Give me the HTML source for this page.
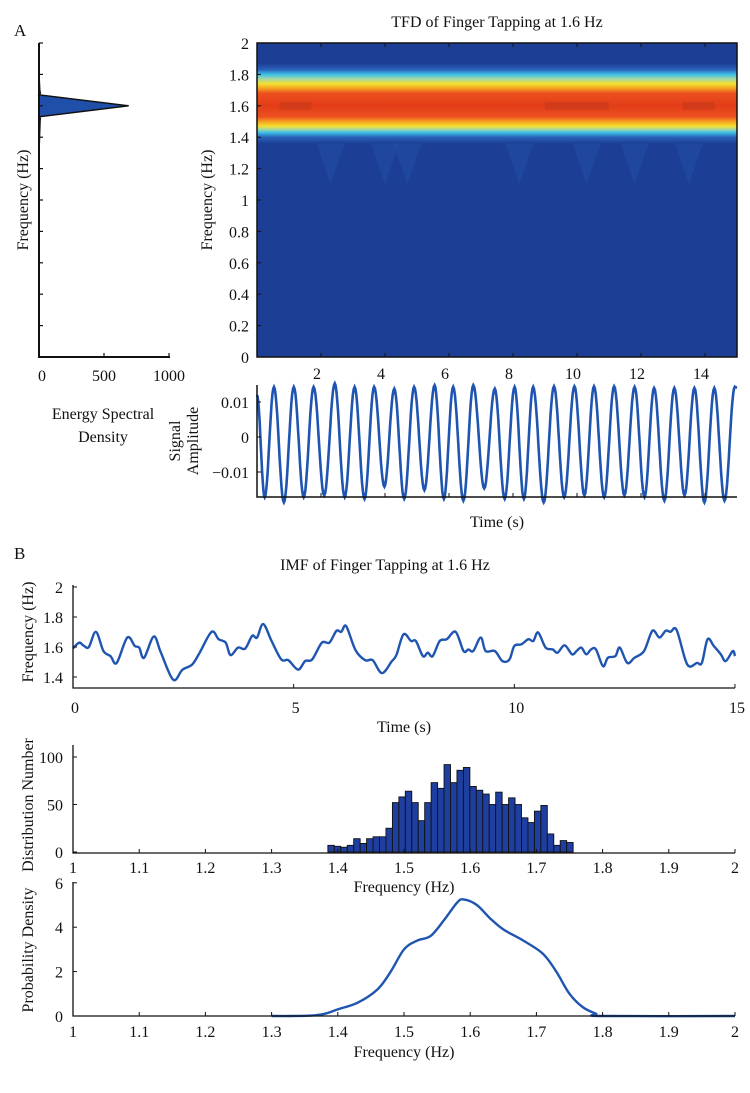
<!DOCTYPE html>
<html><head><meta charset="utf-8"><style>
body{margin:0;background:#fff;}
svg{display:block;font-family:"Liberation Serif",serif;}
text{fill:#111;font-size:16px;}
</style></head><body>
<svg id="fig" width="750" height="1093" viewBox="0 0 750 1093">
<defs>
<linearGradient id="band" x1="0" y1="0" x2="0" y2="1" gradientUnits="userSpaceOnUse">
</linearGradient>
</defs>
<text x="14" y="36" style="font-size:17px">A</text>
<text x="14" y="559" style="font-size:17px">B</text>
<text x="497" y="27" text-anchor="middle">TFD of Finger Tapping at 1.6 Hz</text>
<text x="385" y="570" text-anchor="middle">IMF of Finger Tapping at 1.6 Hz</text>
<text transform="translate(28,200) rotate(-90)" text-anchor="middle">Frequency (Hz)</text>
<text x="103" y="419" text-anchor="middle">Energy Spectral</text>
<text x="103" y="442" text-anchor="middle">Density</text>
<text transform="translate(212,200) rotate(-90)" text-anchor="middle">Frequency (Hz)</text>
<text transform="translate(180,441) rotate(-90)" text-anchor="middle">Signal</text>
<text transform="translate(198,441) rotate(-90)" text-anchor="middle">Amplitude</text>
<text x="497" y="527" text-anchor="middle">Time (s)</text>
<text transform="translate(33,632) rotate(-90)" text-anchor="middle">Frequency (Hz)</text>
<text x="404" y="732" text-anchor="middle">Time (s)</text>
<text transform="translate(33,805) rotate(-90)" text-anchor="middle">Distribution Number</text>
<text x="404" y="892" text-anchor="middle">Frequency (Hz)</text>
<text transform="translate(33,950) rotate(-90)" text-anchor="middle">Probability Density</text>
<text x="404" y="1057" text-anchor="middle">Frequency (Hz)</text>
</svg>
<script>
// ESD data
const esdFreq=[0,1.3,1.45,1.5,1.52,1.53,1.6,1.67,1.68,1.7,1.8,2];
const esdVal=[0,0,6,8,10,0,690,0,10,6,0,0];
const freqTicks=[0,0.2,0.4,0.6,0.8,1,1.2,1.4,1.6,1.8,2];
const esdTicks=[0,500,1000];
// TFD band (freq -> colour level)
const bandFreq=[1.87,1.83,1.80,1.77,1.74,1.71,1.68,1.60,1.53,1.50,1.47,1.45,1.43,1.40,1.36];
const bandColor=["#1c3f95","#2a62ba","#3cc0e8","#a8d8a0","#f5e030","#f5a020","#ec5020","#e23d18","#ec5020","#f5a020","#f5e030","#a8d8a0","#3cc0e8","#2a62ba","#1c3f95"];
const timeTicks=[2,4,6,8,10,12,14];
// Signal extrema
const sigT=[0,0.24,0.53,0.84,1.15,1.46,1.77,2.10,2.43,2.74,3.05,3.36,3.66,3.98,4.29,4.60,4.91,5.23,5.55,5.84,6.13,6.45,6.76,7.10,7.43,7.74,8.05,8.34,8.63,8.96,9.28,9.60,9.92,10.23,10.53,10.85,11.16,11.48,11.80,12.11,12.41,12.73,13.04,13.36,13.67,13.98,14.29,14.61,14.93,15];
const sigV=[0.012,-0.0172,0.0143,-0.0187,0.0143,-0.0172,0.0143,-0.0167,0.0153,-0.0172,0.0143,-0.0177,0.0143,-0.0142,0.0138,-0.0177,0.0143,-0.0152,0.0148,-0.0177,0.0143,-0.0182,0.0148,-0.0147,0.0138,-0.0177,0.0143,-0.0177,0.0143,-0.0187,0.0145,-0.0172,0.0145,-0.0167,0.0145,-0.0172,0.0145,-0.0167,0.0143,-0.0172,0.014,-0.0182,0.014,-0.0167,0.014,-0.0187,0.014,-0.0182,0.0143,0.0141];
const sigTicks=[0.01,0,-0.01];
const sigTickLabels=["0.01","0","\u22120.01"];
// IMF instantaneous frequency
const imfT=[0,0.14,0.25,0.36,0.52,0.69,0.85,0.99,1.23,1.40,1.50,1.61,1.83,1.99,2.27,2.48,2.70,2.87,3.14,3.30,3.46,3.57,3.74,3.90,4.06,4.17,4.31,4.50,4.72,4.88,5.10,5.26,5.42,5.64,5.81,5.97,6.08,6.19,6.40,6.62,6.79,7.00,7.22,7.33,7.49,7.66,7.77,7.93,8.04,8.15,8.31,8.47,8.67,8.85,8.96,9.07,9.24,9.35,9.56,9.73,9.89,10.00,10.16,10.32,10.43,10.54,10.71,10.87,10.98,11.14,11.31,11.41,11.52,11.63,11.74,11.85,12.01,12.12,12.29,12.39,12.56,12.72,12.94,13.13,13.29,13.43,13.54,13.68,13.92,14.14,14.25,14.38,14.52,14.68,14.79,14.95,15.0];
const imfF=[1.591,1.629,1.607,1.600,1.701,1.573,1.539,1.494,1.663,1.607,1.596,1.528,1.670,1.564,1.382,1.449,1.483,1.562,1.701,1.652,1.629,1.546,1.596,1.589,1.674,1.663,1.753,1.640,1.517,1.512,1.449,1.506,1.517,1.629,1.629,1.708,1.701,1.739,1.580,1.512,1.512,1.426,1.503,1.548,1.685,1.640,1.640,1.539,1.562,1.539,1.640,1.652,1.701,1.573,1.584,1.573,1.663,1.573,1.573,1.506,1.517,1.607,1.618,1.652,1.640,1.697,1.596,1.584,1.562,1.611,1.551,1.573,1.596,1.551,1.584,1.584,1.472,1.528,1.539,1.596,1.494,1.528,1.573,1.708,1.663,1.708,1.701,1.712,1.483,1.494,1.494,1.652,1.607,1.551,1.506,1.573,1.539];
const imfYTicks=[1.4,1.6,1.8,2];
const imfXTicks=[0,5,10,15];
// Histogram
const histStart=1.385, histBin=0.00975;
const histCounts=[7,6,5,7,14,9,14,16,16,25,52,58,64,52,33,52,73,67,92,73,86,89,69,65,61,50,63,50,57,50,36,31,43,49,19,7,12,10];
const histYTicks=[0,50,100];
const fxTicks=[1,1.1,1.2,1.3,1.4,1.5,1.6,1.7,1.8,1.9,2];
// Density
const denF=[1.30,1.33,1.36,1.38,1.40,1.43,1.46,1.48,1.50,1.52,1.54,1.56,1.58,1.59,1.61,1.63,1.65,1.68,1.71,1.73,1.75,1.77,1.79,1.80,2.0];
const denV=[0,0,0.02,0.1,0.3,0.6,1.2,2.0,3.0,3.4,3.6,4.3,5.1,5.25,5.0,4.4,3.9,3.4,2.8,2.0,1.0,0.4,0.1,0,0];
const denYTicks=[0,2,4,6];

const NS="http://www.w3.org/2000/svg";
const svg=document.getElementById('fig');
function el(tag,attrs,parent){const e=document.createElementNS(NS,tag);for(const k in attrs)e.setAttribute(k,attrs[k]);(parent||svg).appendChild(e);return e;}
function txt(x,y,s,anchor,name){const t=el('text',{x:x,y:y,'text-anchor':anchor||'middle'});t.textContent=s;


return t;}
function smooth(pts){let d='M'+pts[0][0]+','+pts[0][1];for(let i=0;i<pts.length-1;i++){const p0=pts[Math.max(i-1,0)],p1=pts[i],p2=pts[i+1],p3=pts[Math.min(i+2,pts.length-1)];
d+=' C'+(p1[0]+(p2[0]-p0[0])/6)+','+(p1[1]+(p2[1]-p0[1])/6)+' '+(p2[0]-(p3[0]-p1[0])/6)+','+(p2[1]-(p3[1]-p1[1])/6)+' '+p2[0]+','+p2[1];}return d;}

// ===== ESD panel =====
const ex=v=>39+v*0.13, fy=f=>357-f*157;
let pts=esdFreq.map((f,i)=>ex(esdVal[i])+','+fy(f));
const esd=el('polygon',{points:pts.join(' '),fill:'#1f4fa8',stroke:'#111','stroke-width':1.5});


freqTicks.forEach(f=>{const l=el('line',{x1:39,x2:43,y1:fy(f),y2:fy(f),stroke:'#111','stroke-width':1.2});

});
esdTicks.forEach(v=>{el('line',{x1:ex(v),x2:ex(v),y1:357,y2:353,stroke:'#111','stroke-width':1.2});txt(ex(v)+(v==0?3:0),381,String(v),'middle','esd-x-tick-label');});
const esdAx=el('path',{d:'M39,43 V357 H170',fill:'none',stroke:'#111','stroke-width':2});



// ===== TFD heatmap =====
const hx=t=>257+t*32, hy=f=>357-f*157;
const grad=document.getElementById('band');
grad.setAttribute('y1',hy(bandFreq[0]));grad.setAttribute('y2',hy(bandFreq[bandFreq.length-1]));
const span=bandFreq[0]-bandFreq[bandFreq.length-1];
bandFreq.forEach((f,i)=>el('stop',{offset:(bandFreq[0]-f)/span,'stop-color':bandColor[i]},grad));
const bg=el('rect',{x:257,y:43,width:480,height:314,fill:'#1c3f95'});


const dipT=[2.3,4.0,4.7,8.2,10.3,11.8,13.5];
dipT.forEach(t=>{const p=el('polygon',{points:(hx(t)-16)+','+hy(1.4)+' '+(hx(t)+16)+','+hy(1.4)+' '+hx(t)+','+hy(1.1),fill:'#2351a8',opacity:0.45});

});
const band=el('rect',{x:257,y:hy(bandFreq[0]),width:480,height:span*157,fill:'url(#band)'});


const darkT=[1.2,9.5,10.5,13.8];
darkT.forEach(t=>{const r=el('rect',{x:hx(t)-16,y:hy(1.625),width:32,height:8,fill:'#b8361c',opacity:0.4});

});
el('rect',{x:257,y:43,width:480,height:314,fill:'none',stroke:'#111','stroke-width':1.5});
freqTicks.forEach(f=>{el('line',{x1:257,x2:261,y1:hy(f),y2:hy(f),stroke:'#111'});txt(249,hy(f)+6,String(f),'end','tfd-y-tick-label');});
timeTicks.forEach(t=>{el('line',{x1:hx(t),x2:hx(t),y1:357,y2:353,stroke:'#111'});el('line',{x1:hx(t),x2:hx(t),y1:43,y2:47,stroke:'#111'});txt(hx(t)-4,379,String(t),'middle','tfd-x-tick-label');});

// ===== Signal =====
const sy=v=>437-v*3500;
const sp=[];
for(let i=0;i<sigT.length-1;i++){for(let k=0;k<12;k++){const u=k/12,w=(1-Math.cos(Math.PI*u))/2;sp.push([hx(sigT[i]+(sigT[i+1]-sigT[i])*u).toFixed(1),sy(sigV[i]+(sigV[i+1]-sigV[i])*w).toFixed(1)]);}}
sp.push([hx(sigT[sigT.length-1]),sy(sigV[sigV.length-1])]);
const sig=el('polyline',{points:sp.map(p=>p.join(',')).join(' '),fill:'none',stroke:'#1f55b0','stroke-width':2.6});


el('path',{d:'M257,385 V497 H737',fill:'none',stroke:'#111','stroke-width':1.5});
sigTicks.forEach((v,i)=>{el('line',{x1:257,x2:261,y1:sy(v),y2:sy(v),stroke:'#111'});txt(249,sy(v)+6,sigTickLabels[i],'end','signal-y-tick-label');});
timeTicks.forEach(t=>el('line',{x1:hx(t),x2:hx(t),y1:497,y2:493,stroke:'#111'}));

// ===== IMF =====
const ix=t=>73+t*44.13, iy=f=>677-(f-1.4)*150;
const imf=el('path',{d:smooth(imfT.map((t,i)=>[ix(t),iy(imfF[i])])),fill:'none',stroke:'#1f55b0','stroke-width':2.4});


el('path',{d:'M73,585 V688 H735',fill:'none',stroke:'#111','stroke-width':1.3});
imfYTicks.forEach(f=>{el('line',{x1:73,x2:77,y1:iy(f),y2:iy(f),stroke:'#111'});txt(63,iy(f)+6,String(f),'end','imf-y-tick-label');});
imfXTicks.forEach(t=>{el('line',{x1:ix(t),x2:ix(t),y1:688,y2:684,stroke:'#111'});txt(ix(t)+2,713,String(t),'middle','imf-x-tick-label');});

// ===== Histogram =====
const fx=f=>73+(f-1)*662, hyy=c=>852-c*0.95;
histCounts.forEach((c,i)=>{const x0=fx(histStart+i*histBin);const r=el('rect',{x:x0,y:hyy(c),width:histBin*662,height:c*0.95,fill:'#1f3fa0',stroke:'#111','stroke-width':0.9});

});
el('path',{d:'M73,745 V853 H735',fill:'none',stroke:'#111','stroke-width':1.3});
histYTicks.forEach(c=>{el('line',{x1:73,x2:77,y1:hyy(c),y2:hyy(c),stroke:'#111'});txt(63,hyy(c)+6,String(c),'end','hist-y-tick-label');});
fxTicks.forEach(f=>{el('line',{x1:fx(f),x2:fx(f),y1:853,y2:849,stroke:'#111'});txt(fx(f),873,String(f),'middle','hist-x-tick-label');});

// ===== Density =====
const dy=v=>1016-v*22.2;
const den=el('path',{d:smooth(denF.map((f,i)=>[fx(f),dy(denV[i])])),fill:'none',stroke:'#1f55b0','stroke-width':2.4});


el('path',{d:'M73,882 V1016 H735',fill:'none',stroke:'#111','stroke-width':1.3});
denYTicks.forEach(v=>{el('line',{x1:73,x2:77,y1:dy(v),y2:dy(v),stroke:'#111'});txt(63,dy(v)+6,String(v),'end','density-y-tick-label');});
fxTicks.forEach(f=>{el('line',{x1:fx(f),x2:fx(f),y1:1016,y2:1012,stroke:'#111'});txt(fx(f),1037,String(f),'middle','density-x-tick-label');});
</script>
</body></html>
